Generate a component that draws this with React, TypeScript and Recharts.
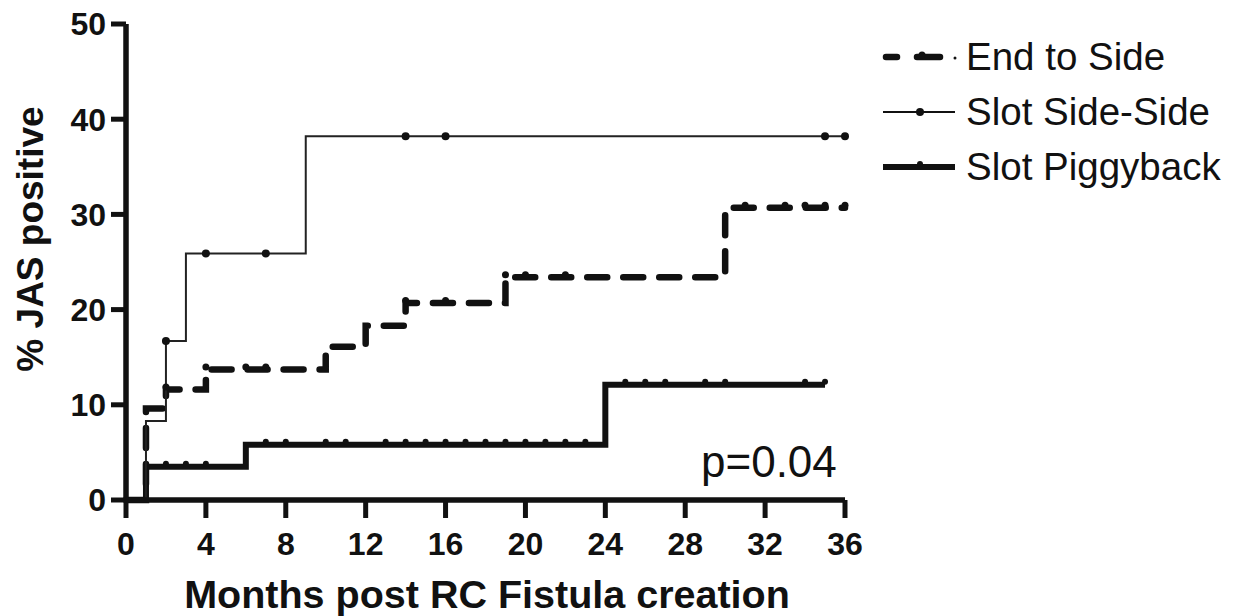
import React from "react";
import { LineChart, Line, XAxis, YAxis, Legend } from "recharts";

// Kaplan-Meier style step curves, % JAS positive by month
const END_MONTHS = [0, 1, 2, 4, 6, 7, 10, 12, 14, 16, 19, 20, 22, 30, 31, 33, 34, 35, 36];
const END_PCT = [0, 9.6, 11.6, 13.7, 13.7, 13.7, 16.1, 18.3, 20.7, 20.7, 23.4, 23.4, 23.4, 30.7, 30.7, 30.7, 30.7, 30.7, 30.7];
const END_CENS = [0, 0, 1, 1, 1, 1, 0, 0, 1, 1, 1, 1, 1, 0, 1, 1, 1, 1, 1];

const SSS_MONTHS = [0, 1, 2, 3, 4, 7, 9, 14, 16, 35, 36];
const SSS_PCT = [0, 8.3, 16.7, 25.9, 25.9, 25.9, 38.2, 38.2, 38.2, 38.2, 38.2];
const SSS_CENS = [0, 0, 1, 0, 1, 1, 0, 1, 1, 1, 1];

const PIG_MONTHS = [0, 1, 2, 3, 4, 6, 7, 8, 10, 11, 13, 14, 15, 16, 17, 18, 19, 20, 21, 22, 23, 24, 25, 26, 27, 29, 30, 34, 35];
const PIG_PCT = [0, 3.5, 3.5, 3.5, 3.5, 5.8, 5.8, 5.8, 5.8, 5.8, 5.8, 5.8, 5.8, 5.8, 5.8, 5.8, 5.8, 5.8, 5.8, 5.8, 5.8, 12.1, 12.1, 12.1, 12.1, 12.1, 12.1, 12.1, 12.1];
const PIG_CENS = [0, 0, 1, 1, 1, 0, 1, 1, 1, 1, 1, 1, 1, 1, 1, 1, 1, 1, 1, 1, 1, 0, 1, 1, 1, 1, 1, 1, 1];

const X_TICKS = [0, 4, 8, 12, 16, 20, 24, 28, 32, 36];
const Y_TICKS = [0, 10, 20, 30, 40, 50];

const FONT = "'Liberation Sans', Arial, Helvetica, sans-serif";
const INK = "#111";

const zip = (t: number[], v: number[], c: number[]) =>
  t.map((m, i) => ({ t: m, v: v[i], c: c[i] }));

const endData = zip(END_MONTHS, END_PCT, END_CENS);
const sssData = zip(SSS_MONTHS, SSS_PCT, SSS_CENS);
const pigData = zip(PIG_MONTHS, PIG_PCT, PIG_CENS);

const censorDot = (r: number, lift: number) => (props: any) => {
  const { cx, cy, payload, index } = props;
  if (!payload?.c) return <g key={`n${index}`} />;
  return <circle key={`c${index}`} cx={cx} cy={cy - lift} r={r} fill={INK} stroke="none" />;
};

const LegendBox = () => (
  <svg width={360} height={170} style={{ display: "block" }}>
    <g stroke={INK} strokeLinecap="round">
      <line x1={6} y1={27} x2={17} y2={27} strokeWidth={6.5} />
      <line x1={37} y1={27} x2={60} y2={27} strokeWidth={6.5} />
      <circle cx={42} cy={25} r={3.5} fill={INK} stroke="none" />
      <circle cx={75} cy={28} r={1.5} fill={INK} stroke="none" />
      <line x1={3} y1={82} x2={75} y2={82} strokeWidth={2} strokeLinecap="butt" />
      <circle cx={40} cy={82} r={4} fill={INK} stroke="none" />
      <line x1={3} y1={137} x2={75} y2={137} strokeWidth={6} strokeLinecap="butt" />
      <circle cx={40} cy={134} r={3} fill={INK} stroke="none" />
    </g>
    <g fontFamily={FONT} fontSize={38.5} fill={INK}>
      <text x={86} y={40}>End to Side</text>
      <text x={86} y={95}>Slot Side-Side</text>
      <text x={86} y={150}>Slot Piggyback</text>
    </g>
  </svg>
);

export default function App() {
  return (
    <div style={{ position: "absolute", left: 0, top: 0, width: 1235, height: 616, background: "#fff" }}>
      <LineChart width={1235} height={616} margin={{ top: 24, right: 390, bottom: 36, left: 0 }}>
        <XAxis
          type="number"
          dataKey="t"
          domain={[0, 36]}
          ticks={X_TICKS}
          height={80}
          axisLine={{ stroke: INK, strokeWidth: 5.5 }}
          tickLine={{ stroke: INK, strokeWidth: 5 }}
          tickSize={18}
          tickMargin={14}
          tick={{ fill: INK, fontSize: 32, fontWeight: 700, fontFamily: FONT }}
          allowDuplicatedCategory={false}
        />
        <YAxis
          type="number"
          dataKey="v"
          domain={[0, 50]}
          ticks={Y_TICKS}
          width={126}
          axisLine={{ stroke: INK, strokeWidth: 5.5 }}
          tickLine={{ stroke: INK, strokeWidth: 5 }}
          tickSize={15}
          tickMargin={5}
          tick={{ fill: INK, fontSize: 32, fontWeight: 700, fontFamily: FONT }}
        />
        <Legend
          layout="vertical"
          align="center"
          verticalAlign="middle"
          content={() => <LegendBox />}
          wrapperStyle={{ left: 880, top: 30, width: 360, height: 170 }}
        />
        <Line
          data={pigData}
          dataKey="v"
          name="Slot Piggyback"
          type="stepAfter"
          stroke={INK}
          strokeWidth={6}
          dot={censorDot(3, 3)}
          activeDot={false}
          isAnimationActive={false}
        />
        <Line
          data={endData}
          dataKey="v"
          name="End to Side"
          type="stepAfter"
          stroke={INK}
          strokeWidth={6.5}
          strokeDasharray="20 16"
          strokeLinecap="round"
          dot={censorDot(3.5, 2.5)}
          activeDot={false}
          isAnimationActive={false}
        />
        <Line
          data={sssData}
          dataKey="v"
          name="Slot Side-Side"
          type="stepAfter"
          stroke="#222"
          strokeWidth={2}
          dot={censorDot(4, 0)}
          activeDot={false}
          isAnimationActive={false}
        />
        <text x={701} y={477} fontFamily={FONT} fontSize={44} fill={INK}>p=0.04</text>
        <text x={487} y={608} textAnchor="middle" fontFamily={FONT} fontSize={39.5} fontWeight={700} fill={INK}>
          Months post RC Fistula creation
        </text>
        <text
          x={43}
          y={239}
          transform="rotate(-90 43 239)"
          textAnchor="middle"
          fontFamily={FONT}
          fontSize={37}
          fontWeight={700}
          fill={INK}
        >
          % JAS positive
        </text>
      </LineChart>
    </div>
  );
}
